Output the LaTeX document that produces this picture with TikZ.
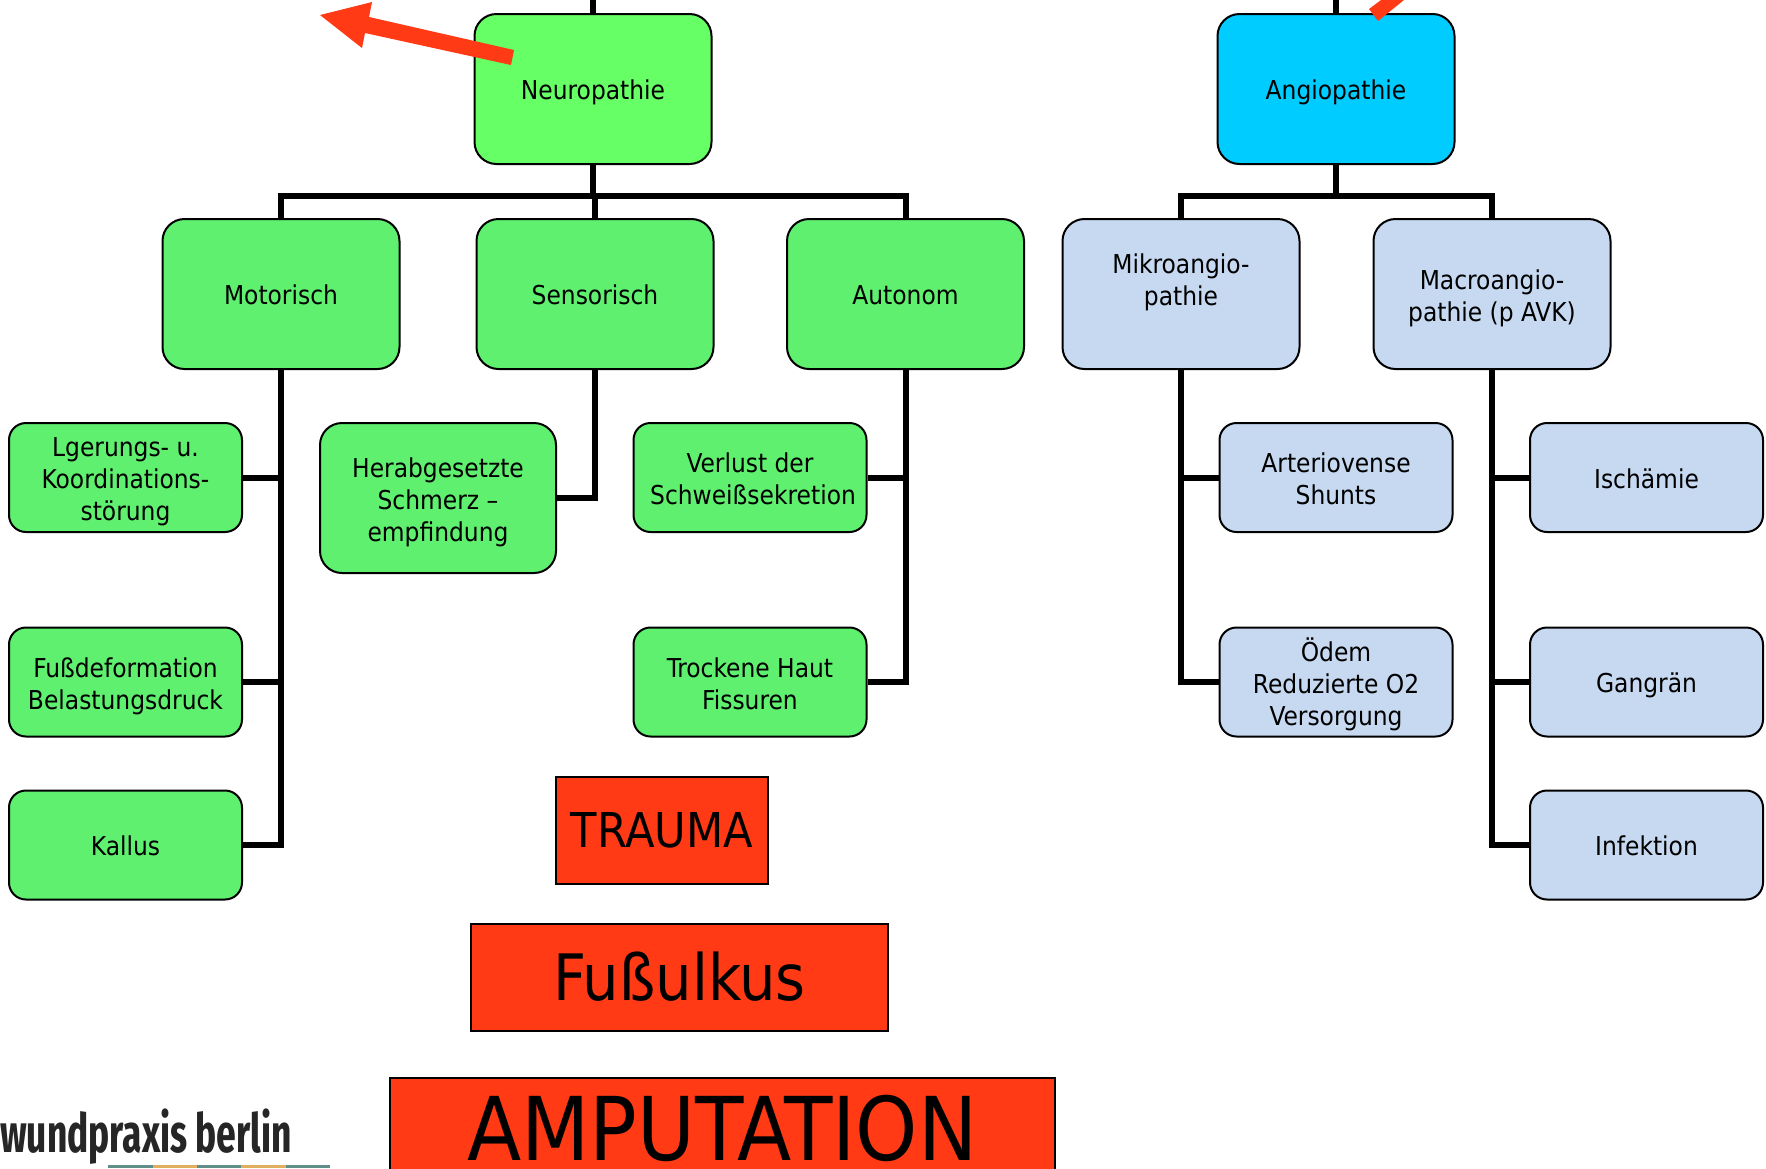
\documentclass[tikz,border=0pt]{standalone}
\usepackage{fontspec}
\setmainfont{DejaVu Sans Condensed}
\newfontfamily\logofont{Fira Sans Condensed}
\usetikzlibrary{calc}
\definecolor{topgreen}{HTML}{66FF66}
\definecolor{midgreen}{HTML}{5EF06E}
\definecolor{topblue}{HTML}{00CCFF}
\definecolor{lightblue}{HTML}{C6D9F1}
\definecolor{redbox}{HTML}{FF3A14}
\definecolor{stripteal}{HTML}{5F8F88}
\definecolor{striptan}{HTML}{E0B060}
\newcommand{\txtdrop}{\rule{0pt}{31pt}}
\pgfdeclarelayer{back}\pgfsetlayers{back,main}
\tikzset{
  x=1pt,y=-1pt,
  basebox/.style={draw=black,line width=2pt,rounded corners=22pt,inner sep=0pt,align=center,
    font=\fontsize{26}{32}\selectfont,text=black,
    execute at begin node={\rule{0pt}{30pt}},
    execute at end node={\rule[-9pt]{0pt}{9pt}}},
  bigbox/.style={basebox,minimum width=237pt,minimum height=150pt},
  smallbox/.style={basebox,rounded corners=17pt,minimum width=233pt,minimum height=109pt},
  herabbox/.style={basebox,minimum width=236pt,minimum height=150pt},
  green1/.style={fill=topgreen},
  green2/.style={fill=midgreen},
  blue1/.style={fill=topblue},
  blue2/.style={fill=lightblue},
  redrect/.style={draw=black,line width=2pt,fill=redbox,inner sep=0pt,text=black},
  trunk/.style={draw=black,line width=6pt,line cap=butt,line join=miter},
  redarrow/.style={fill=redbox,draw=none}
}
\begin{document}
\begin{tikzpicture}
\useasboundingbox (0,0) rectangle (1766,1168);
% nodes
\node[bigbox,green1] (neuro) at (593,89) {Neuropathie};
\node[bigbox,blue1] (angio) at (1336,89) {Angiopathie};
\node[bigbox,green2] (motor) at (281,294) {Motorisch};
\node[bigbox,green2] (sens) at (595,294) {Sensorisch};
\node[bigbox,green2] (auto) at (905.5,294) {Autonom};
\node[bigbox,blue2] (mikro) at (1181,294) {\txtdrop Mikroangio-\\pathie\\};
\node[bigbox,blue2] (macro) at (1492,294) {\txtdrop Macroangio-\\pathie (p AVK)};
\node[smallbox,green2] (lager) at (125.5,477.5) {\txtdrop Lgerungs- u.\\Koordinations-\\störung};
\node[herabbox,green2] (herab) at (438,498) {\txtdrop Herabgesetzte\\Schmerz –\\empfindung};
\node[smallbox,green2] (verlust) at (750,477.5) {\txtdrop Verlust der\\\hspace*{6pt}Schweißsekretion};
\node[smallbox,blue2] (arterio) at (1336,477.5) {\txtdrop Arteriovense\\Shunts};
\node[smallbox,blue2] (isch) at (1646.5,477.5) {Ischämie};
\node[smallbox,green2] (fuss) at (125.5,682) {\txtdrop Fußdeformation\\Belastungsdruck};
\node[smallbox,green2] (trocken) at (750,682) {\txtdrop Trockene Haut\\Fissuren};
\node[smallbox,blue2] (oedem) at (1336,682) {\txtdrop Ödem\\Reduzierte O2\\Versorgung};
\node[smallbox,blue2] (gang) at (1646.5,682) {Gangrän};
\node[smallbox,green2] (kallus) at (125.5,845) {Kallus};
\node[smallbox,blue2] (infekt) at (1646.5,845) {Infektion};
\node[redrect,minimum width=212pt,minimum height=107pt,font=\fontsize{48}{60}\selectfont] (trauma) at (662,830) {\raisebox{-2pt}{TRAUMA}};
\node[redrect,minimum width=417pt,minimum height=107pt,font=\fontsize{64}{80}\selectfont] (ulkus) at (679.5,977) {Fußulkus};
\node[redrect,minimum width=665pt,minimum height=100pt,anchor=north,font=\fontsize{88}{100}\selectfont] (amp) at (722.5,1077) {AMPUTATION};
\node[inner sep=0pt,anchor=base west,xscale=.72,transform shape,font=\logofont\bfseries\fontsize{54}{60}\selectfont,text=black!85] (logo) at (0,1152) {wundpraxis berlin};
% free ends
\coordinate (ntop) at (593,0);
\coordinate (atop) at (1336,0);
% connectors behind nodes
\begin{pgfonlayer}{back}
\draw[trunk] (ntop) -- (neuro.north);
\draw[trunk] (atop) -- (angio.north);
\draw[trunk] (neuro.south) -- ($(neuro.south)+(0,31)$);
\draw[trunk] (motor.north) |- ($(neuro.south)+(0,31)$) -| (auto.north);
\draw[trunk] ($(neuro.south)+(0,31)$) -| (sens.north);
\draw[trunk] (angio.south) -- ($(angio.south)+(0,31)$);
\draw[trunk] (mikro.north) |- ($(angio.south)+(0,31)$) -| (macro.north);
\draw[trunk] (motor.south) |- (kallus.east);
\draw[trunk] (lager.east) -| (motor.south);
\draw[trunk] (fuss.east) -| (motor.south);
\draw[trunk] (sens.south) |- (herab.east);
\draw[trunk] (auto.south) |- (trocken.east);
\draw[trunk] (verlust.east) -| (auto.south);
\draw[trunk] (mikro.south) |- (oedem.west);
\draw[trunk] (arterio.west) -| (mikro.south);
\draw[trunk] (macro.south) |- (infekt.west);
\draw[trunk] (isch.west) -| (macro.south);
\draw[trunk] (gang.west) -| (macro.south);
\end{pgfonlayer}
% red arrows
\fill[redarrow] (514,50) -- (369,17) -- (372,2) -- (320,15) -- (362,48) -- (365,33) -- (511,65) -- cycle;
\fill[redarrow] (1369,9) -- (1378,21) -- (1404,0) -- (1381,0) -- cycle;
% logo strip
\fill[stripteal] (108,1165) rectangle (153,1168);
\fill[striptan] (153,1165) rectangle (197,1168);
\fill[stripteal] (197,1165) rectangle (241,1168);
\fill[striptan] (241,1165) rectangle (286,1168);
\fill[stripteal] (286,1165) rectangle (330,1168);
\end{tikzpicture}
\end{document}
